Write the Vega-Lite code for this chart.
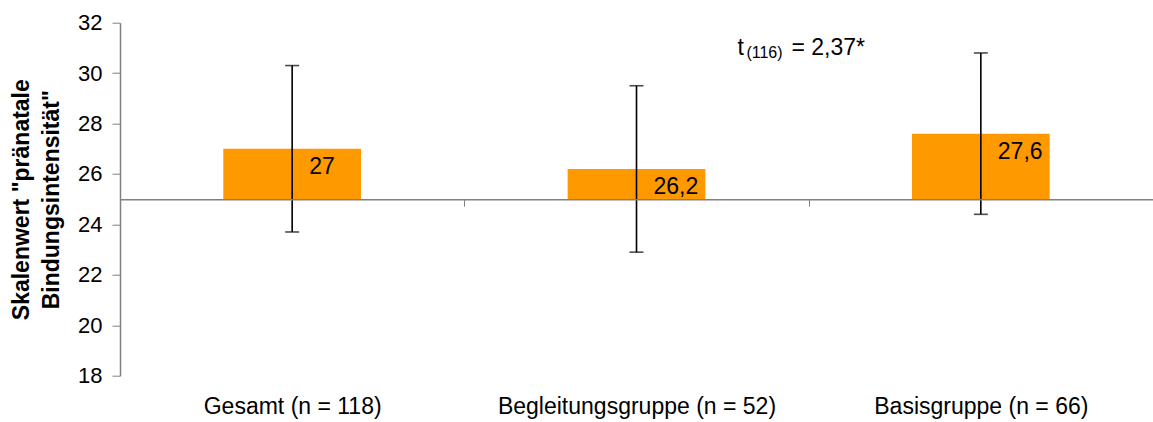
{
  "$schema": "https://vega.github.io/schema/vega-lite/v6.json",
  "autosize": "none",
  "width": 1033,
  "height": 353,
  "padding": {"left": 120, "top": 22.7, "right": 0, "bottom": 46.3},
  "background": "white",
  "config": {
    "view": {"stroke": null},
    "font": "Liberation Sans",
    "text": {"font": "Liberation Sans", "color": "black", "fontWeight": "normal"}
  },
  "data": {
    "values": [
      {"group": "Gesamt (n = 118)", "mean": 27.0, "label": "27", "lo": 23.7, "hi": 30.3},
      {"group": "Begleitungsgruppe (n = 52)", "mean": 26.2, "label": "26,2", "lo": 22.9, "hi": 29.5},
      {"group": "Basisgruppe (n = 66)", "mean": 27.6, "label": "27,6", "lo": 24.4, "hi": 30.8}
    ]
  },
  "encoding": {
    "x": {
      "field": "group",
      "type": "nominal",
      "sort": null,
      "scale": {"paddingInner": 0, "paddingOuter": 0},
      "axis": {
        "title": null,
        "orient": "bottom",
        "offset": -176.5,
        "domainColor": "#808080",
        "domainWidth": 1.5,
        "tickColor": "#808080",
        "tickWidth": 1,
        "tickSize": 7,
        "tickBand": "extent",
        "labelAngle": 0,
        "labelLimit": 0,
        "labelFont": "Liberation Sans",
        "labelFontSize": 23,
        "labelColor": "black",
        "labelBaseline": "alphabetic",
        "labelPadding": 207,
        "zindex": 1
      }
    }
  },
  "layer": [
    {
      "mark": {"type": "bar", "color": "#FF9900", "width": {"band": 0.4}},
      "encoding": {
        "y": {
          "field": "mean",
          "type": "quantitative",
          "scale": {"domain": [18, 32], "nice": false, "zero": false},
          "axis": {
            "values": [18, 20, 22, 24, 26, 28, 30, 32],
            "grid": false,
            "domainColor": "#808080",
            "domainWidth": 1.5,
            "tickColor": "#808080",
            "tickSize": 8,
            "tickWidth": 1,
            "labelFont": "Liberation Sans",
            "labelFontSize": 22,
            "labelColor": "black",
            "labelPadding": 10,
            "title": ["Skalenwert \"pränatale", "Bindungsintensität\""],
            "titleFont": "Liberation Sans",
            "titleFontSize": 23,
            "titleFontWeight": "bold",
            "titleColor": "black",
            "titleLineHeight": 30,
            "titlePadding": 14
          }
        },
        "y2": {"datum": 25}
      }
    },
    {
      "mark": {"type": "rule", "color": "black", "strokeWidth": 1.6},
      "encoding": {
        "y": {"field": "lo", "type": "quantitative"},
        "y2": {"field": "hi"}
      }
    },
    {
      "mark": {"type": "tick", "color": "black", "size": 14, "thickness": 1.6, "orient": "horizontal"},
      "encoding": {"y": {"field": "lo", "type": "quantitative"}}
    },
    {
      "mark": {"type": "tick", "color": "black", "size": 14, "thickness": 1.6, "orient": "horizontal"},
      "encoding": {"y": {"field": "hi", "type": "quantitative"}}
    },
    {
      "mark": {"type": "text", "align": "left", "baseline": "middle", "dx": 17, "dy": 18, "fontSize": 23, "fontWeight": "normal"},
      "encoding": {
        "y": {"field": "mean", "type": "quantitative"},
        "text": {"field": "label"}
      }
    },
    {
      "data": {"values": [{"group": "Begleitungsgruppe (n = 52)", "y": 30.72, "t": "t", "df": "(116)", "val": "= 2,37*"}]},
      "layer": [
        {
          "mark": {"type": "text", "align": "left", "baseline": "alphabetic", "fontSize": 23, "fontWeight": "normal"},
          "encoding": {
            "x": {"field": "group", "type": "nominal", "bandPosition": 0.793},
            "y": {"field": "y", "type": "quantitative"},
            "text": {"field": "t"}
          }
        },
        {
          "mark": {"type": "text", "align": "left", "baseline": "alphabetic", "fontSize": 16, "fontWeight": "normal", "dx": 9, "dy": 3},
          "encoding": {
            "x": {"field": "group", "type": "nominal", "bandPosition": 0.793},
            "y": {"field": "y", "type": "quantitative"},
            "text": {"field": "df"}
          }
        },
        {
          "mark": {"type": "text", "align": "left", "baseline": "alphabetic", "fontSize": 23, "fontWeight": "normal", "dx": 54},
          "encoding": {
            "x": {"field": "group", "type": "nominal", "bandPosition": 0.793},
            "y": {"field": "y", "type": "quantitative"},
            "text": {"field": "val"}
          }
        }
      ]
    }
  ]
}
